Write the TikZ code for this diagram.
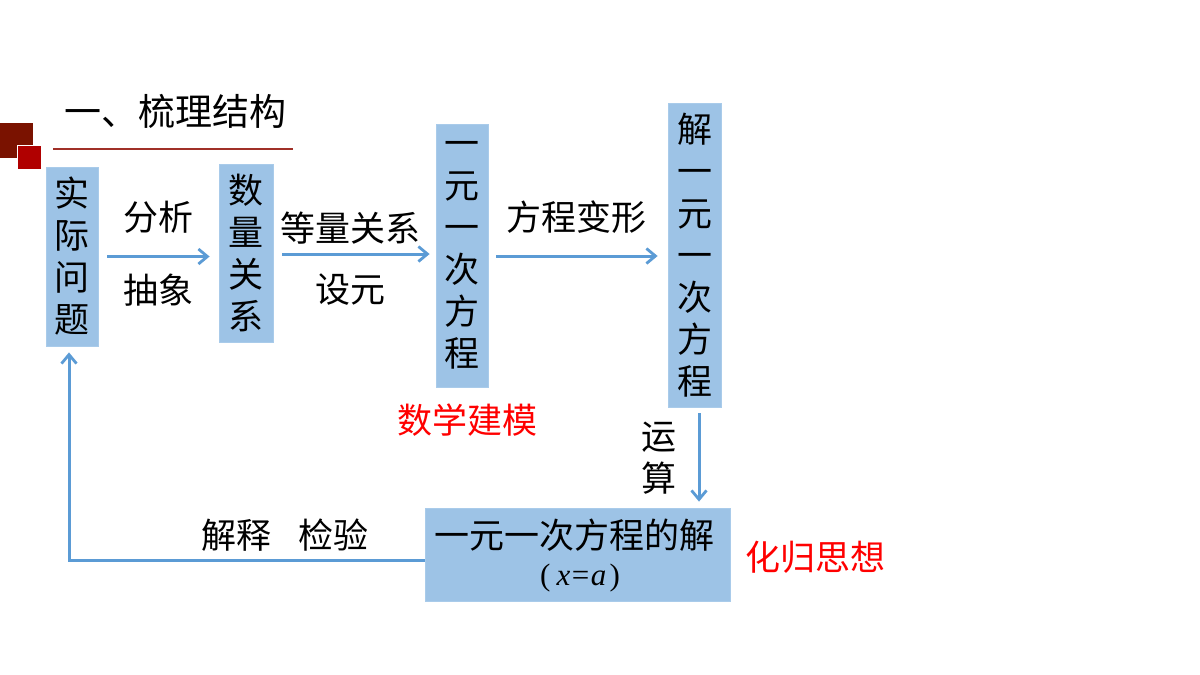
\documentclass[tikz,border=0pt]{standalone}
\usepackage{fontspec}
\setmainfont{Noto Sans CJK SC}
\newfontfamily\lmfont{Liberation Serif}
\usetikzlibrary{arrows.meta}
\definecolor{boxfill}{HTML}{9DC3E6}
\definecolor{boxedge}{HTML}{A9CBEA}
\definecolor{arrblue}{HTML}{5B9BD5}
\definecolor{darkred}{HTML}{7A1200}
\definecolor{midred}{HTML}{B00000}
\definecolor{rulered}{HTML}{A03028}
\tikzset{
  vbox/.style={draw=boxedge, line width=0.8pt, fill=boxfill, inner sep=0pt, align=center,
     font=\fontsize{35}{42}\selectfont},
  lbl/.style={inner sep=0pt, font=\fontsize{35}{42}\selectfont},
  redlbl/.style={lbl, text=red},
  arr/.style={draw=arrblue, line width=3pt, -{Straight Barb[length=9pt,width=15pt,line width=2.8pt]}},
}
\begin{document}
\begin{tikzpicture}[x=1pt,y=-1pt]
\useasboundingbox (0,0) rectangle (1200,675);
\fill[white] (0,0) rectangle (1200,675);
% decoration
\fill[darkred] (0,123) rectangle (33,158);
\filldraw[fill=midred, draw=white, line width=0.8pt] (17,145) rectangle (41,169);
\draw[rulered, line width=1.4pt] (53,149) -- (293,149);
\node[lbl, font=\fontsize{37}{42}\selectfont, anchor=west] (title) at (64,111) {一、梳理结构};
% boxes
\node[vbox, minimum width=52pt, minimum height=179pt] (sj) at (72,256.5) {实\\际\\问\\题};
\node[vbox, minimum width=54pt, minimum height=178pt] (sl) at (246,253) {数\\量\\关\\系};
\node[vbox, minimum width=52pt, minimum height=263pt] (fc) at (462,255.5) {一\\元\\一\\次\\方\\程};
\node[vbox, minimum width=53pt, minimum height=304pt] (jf) at (694.5,255) {解\\一\\元\\一\\次\\方\\程};
\node[vbox, minimum width=305pt, minimum height=93pt] (bot) at (577.5,554.5) {};
\node[lbl] (botA) at (574,535) {一元一次方程的解};
\node[inner sep=0pt, font=\fontsize{31}{34}\selectfont\lmfont] (botB) at (580,578) {(\hspace{0.2em}\textit{x}\hspace{0.05em}=\hspace{0.05em}\textit{a}\hspace{0.1em})};
% labels
\node[lbl] (fx) at (158,217) {分析};
\node[lbl] (cx) at (158,290) {抽象};
\node[lbl] (dl) at (350,228) {等量关系};
\node[lbl] (sy) at (350,290) {设元};
\node[lbl] (bx) at (576,217) {方程变形};
\node[redlbl] (jm) at (467,420) {数学建模};
\node[lbl, align=center] (ys) at (659,458) {运\\算};
\node[lbl] (js) at (285,535) {解释\hspace{0.75em}检验};
\node[redlbl] (hg) at (815,557) {化归思想};
% arrows
\draw[arr, shorten <=9pt, shorten >=9pt] (sj.east) -- (sj.east -| sl.west);
\draw[arr, shorten <=9pt, shorten >=6pt] ([yshift=-1pt]sl.east) -- ([yshift=-1pt]sl.east -| fc.west);
\draw[arr, shorten <=8pt, shorten >=10pt] ([yshift=-0.5pt]fc.east) -- ([yshift=-0.5pt]fc.east -| jf.west);
\draw[arr, shorten <=6pt, shorten >=6pt] ([xshift=4.5pt]jf.south) -- ([xshift=4.5pt]jf.south |- bot.north);
\coordinate (corner) at (69,560);
\draw[arr, shorten >=6pt] ([yshift=-5.5pt]bot.west) -- (corner) -- (corner |- sj.south);
\end{tikzpicture}
\end{document}
